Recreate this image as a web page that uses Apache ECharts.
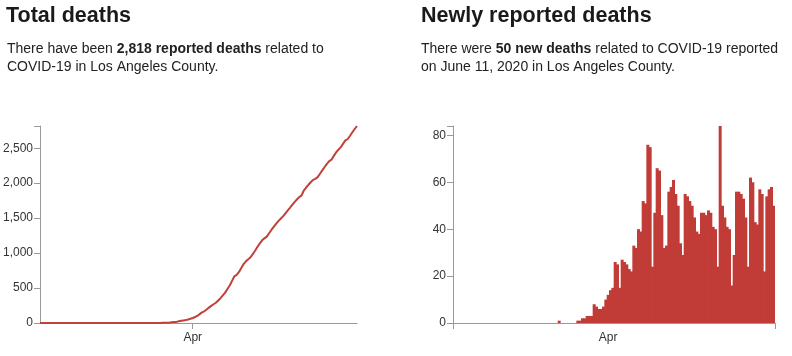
<!DOCTYPE html>
<html>
<head>
<meta charset="utf-8">
<script src="https://cdn.jsdelivr.net/npm/echarts@6/dist/echarts.min.js"></script>
<style>
  html, body { margin: 0; padding: 0; background: #fff; }
  #chart { width: 792px; height: 356px; }
</style>
</head>
<body>
<div id="chart"></div>
<script>
// ---- data ----
const START_DATE = '2020-01-26';
const END_DATE = '2020-06-11';

// cumulative reported deaths, one value per day from START_DATE to END_DATE
const totalDeaths = [
  0,0,0,0,0,0,0,0,0,0, 0,0,0,0,0,0,0,0,0,0,
  0,0,0,0,0,0,0,0,0,0, 0,0,0,0,0,0,0,0,0,0,
  0,0,0,0,0,
  1,1,1,1,1,1,1,1,
  2,3,5,7,10,13,16,24,31,37,43,50,60,
  72,86,101,127,152,167,194,220,245,268,290,323,355,395,434,486,537,
  603,668,689,730,787,843,883,911,940,988,
  1038,1091,1139,1182,1211,1236,1284,1331,1376,1419,
  1458,1492,1525,1566,1607,1647,1689,1730,1766,1801,
  1822,1895,1938,1977,2013,2048,2062,2087,2135,2183,
  2231,2277,2316,2337,2391,2443,2480,2516,2565,2613,
  2632,2679,2728,2775,2818
];

// newly reported deaths per day
const newDeaths = [
  0,0,0,0,0,0,0,0,0,0, 0,0,0,0,0,0,0,0,0,0,
  0,0,0,0,0,0,0,0,0,0, 0,0,0,0,0,0,0,0,0,0,
  0,0,0,0,0,
  1,0,0,0,0,0,0,0,
  1,1,2,2,3,3,3,8,7,6,6,7,10,
  12,14,15,26,25,15,27,26,25,23,
  22,33,32,40,39,52,51,76,75,24,
  47,66,65,46,32,33,56,58,61,55,
  50,34,29,55,54,52,50,45,39,38,
  47,47,46,48,47,41,40,24,84,50,
  45,41,40,16,29,56,56,55,53,45,
  24,62,60,43,42,57,55,22,54,57,
  58,50
];

const xTickDates = ['2020-04-01'];
const xTickLabels = ['Apr'];
const totalYTicks = [0, 500, 1000, 1500, 2000, 2500];
const newYTicks = [0, 20, 40, 60, 80];

// ---- build category dates ----
function buildDates(start, end) {
  const out = [];
  const d = new Date(start + 'T00:00:00Z');
  const e = new Date(end + 'T00:00:00Z');
  while (d <= e) {
    out.push(d.toISOString().slice(0, 10));
    d.setUTCDate(d.getUTCDate() + 1);
  }
  return out;
}
const dates = buildDates(START_DATE, END_DATE);

const FONT = '"Liberation Sans", Arial, Helvetica, sans-serif';
const AXIS_COLOR = '#9a9a9a';
const LABEL_COLOR = '#333';
const RED_LINE = '#c0403a';
const RED_BAR = '#c13c37';

const fmt = v => v.toLocaleString('en-US');
const tickIdx = xTickDates.map(d => dates.indexOf(d));
const isTick = i => tickIdx.indexOf(i) >= 0;
const tickText = v => { const k = xTickDates.indexOf(v); return k >= 0 ? xTickLabels[k] : ''; };

const lastTotal = totalDeaths[totalDeaths.length - 1];
const lastNew = newDeaths[newDeaths.length - 1];

function xAxisCfg(gridIndex, boundaryGap) {
  return {
    type: 'category', gridIndex, data: dates, boundaryGap,
    axisLine: { show: true, lineStyle: { color: AXIS_COLOR, width: 1 } },
    axisTick: { show: true, length: 6, interval: (i) => isTick(i), lineStyle: { color: AXIS_COLOR } },
    axisLabel: { interval: (i) => isTick(i), formatter: tickText, color: LABEL_COLOR, fontSize: 12, fontFamily: FONT, margin: 9 },
    splitLine: { show: false }
  };
}
function yAxisCfg(gridIndex, max, interval, ticks) {
  return {
    type: 'value', gridIndex, min: 0, max, interval,
    axisLine: { show: true, lineStyle: { color: AXIS_COLOR, width: 1 } },
    axisTick: { show: true, length: 6, lineStyle: { color: AXIS_COLOR } },
    axisLabel: { formatter: v => ticks.indexOf(v) >= 0 ? fmt(v) : '', color: LABEL_COLOR, fontSize: 12, fontFamily: FONT, margin: 7 },
    splitLine: { show: false }
  };
}

const titleStyle = { fontSize: 21.5, fontWeight: 'bold', color: '#1a1a1a', fontFamily: FONT };
const bodyStyle = {
  fontSize: 14, fontWeight: 'normal', color: '#222', fontFamily: FONT, lineHeight: 18,
  rich: { b: { fontSize: 14, fontWeight: 'bold', color: '#222', fontFamily: FONT, lineHeight: 18 } }
};

const chart = echarts.init(document.getElementById('chart'), null, { renderer: 'canvas' });
chart.setOption({
  animation: false,
  backgroundColor: '#fff',
  title: [
    { text: 'Total deaths', left: 6, top: 5, padding: 0, textStyle: titleStyle },
    { text: 'There have been {b|' + fmt(lastTotal) + ' reported deaths} related to\nCOVID-19 in Los Angeles County.',
      left: 7, top: 40, padding: 0, textStyle: bodyStyle },
    { text: 'Newly reported deaths', left: 421, top: 5, padding: 0, textStyle: titleStyle },
    { text: 'There were {b|' + lastNew + ' new deaths} related to COVID-19 reported\non June 11, 2020 in Los Angeles County.',
      left: 421, top: 40, padding: 0, textStyle: bodyStyle }
  ],
  grid: [
    { left: 39, top: 126, width: 318, height: 197 },
    { left: 453, top: 126, width: 322, height: 197 }
  ],
  xAxis: [ xAxisCfg(0, false), xAxisCfg(1, true) ],
  yAxis: [ yAxisCfg(0, lastTotal, 500, totalYTicks), yAxisCfg(1, 84, 20, newYTicks) ],
  series: [
    { type: 'line', xAxisIndex: 0, yAxisIndex: 0, data: totalDeaths, showSymbol: false, symbol: 'none',
      lineStyle: { color: RED_LINE, width: 2 }, smooth: false, z: 3 },
    { type: 'bar', xAxisIndex: 1, yAxisIndex: 1, data: newDeaths, barWidth: 3,
      itemStyle: { color: RED_BAR } }
  ]
});
</script>
</body>
</html>
